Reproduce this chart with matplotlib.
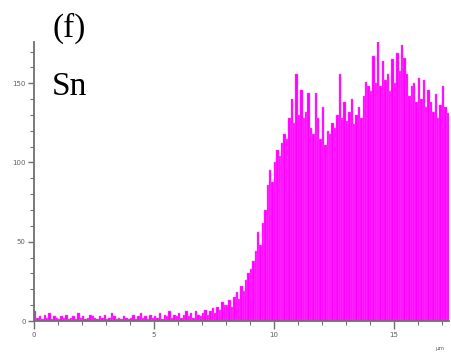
import matplotlib.pyplot as plt
from matplotlib.ticker import MultipleLocator

# Sn line-scan counts, 0.1 um bins starting at 0 um
counts = [
    6, 2, 3, 1, 4, 2, 5, 1, 3, 2,
    1, 3, 2, 4, 1, 2, 3, 1, 5, 2,
    3, 1, 2, 4, 3, 2, 1, 3, 2, 4,
    1, 2, 5, 3, 1, 2, 1, 3, 2, 1,
    2, 4, 1, 3, 5, 2, 3, 1, 4, 2,
    3, 2, 5, 1, 4, 3, 6, 2, 4, 3,
    5, 2, 4, 6, 3, 5, 2, 6, 4, 3,
    5, 7, 4, 6, 8, 5, 9, 7, 12, 10,
    10, 13, 9, 15, 18, 14, 22, 19, 26, 30,
    33, 38, 44, 56, 48, 62, 70, 86, 95, 88,
    100, 108, 104, 112, 118, 115, 128, 140, 125, 156,
    130, 146, 128, 132, 144, 122, 118, 144, 128, 115,
    135, 111, 120, 118, 125, 122, 130, 156, 128, 138,
    126, 132, 140, 124, 130, 135, 128, 142, 151, 148,
    145, 167, 150, 177, 148, 164, 152, 156, 145, 165,
    150, 169, 158, 174, 166, 156, 142, 148, 150, 138,
    153, 140, 152, 135, 146, 138, 132, 143, 128, 136,
    148, 135, 131,
]
bin_width = 0.1
positions = [i * bin_width for i in range(len(counts))]

fig = plt.figure(figsize=(4.51, 3.53), dpi=100)
ax = fig.add_axes([34 / 451, 32 / 353, 415 / 451, 279 / 353])

ax.bar(positions, counts, width=bin_width, align='edge',
       color='#ff00ff', edgecolor='#ff55ff', linewidth=0.3)

ax.set_xlim(0, 17.3)
ax.set_ylim(0, 176)

for side in ['top', 'right']:
    ax.spines[side].set_visible(False)
for side in ['left', 'bottom']:
    ax.spines[side].set_color('#707070')
    ax.spines[side].set_linewidth(1.3)

ax.xaxis.set_major_locator(MultipleLocator(5))
ax.xaxis.set_minor_locator(MultipleLocator(1))
ax.yaxis.set_major_locator(MultipleLocator(50))
ax.yaxis.set_minor_locator(MultipleLocator(10))
ax.tick_params(axis='both', which='major', colors='#707070', labelcolor='#606060',
               labelsize=5, width=1, pad=2)
ax.tick_params(axis='x', which='major', length=6)
ax.tick_params(axis='y', which='major', length=4)
ax.tick_params(axis='both', which='minor', colors='#707070', length=3, width=0.8)

fig.text(52 / 451, 1 - 37 / 353, '(f)', family='Liberation Serif', fontsize=24)
fig.text(52 / 451, 1 - 95 / 353, 'Sn', family='Liberation Serif', fontsize=24)
fig.text(436 / 451, 1 - 350 / 353, 'µm', fontsize=4, color='#606060')

fig.savefig('out.png', dpi=100)
